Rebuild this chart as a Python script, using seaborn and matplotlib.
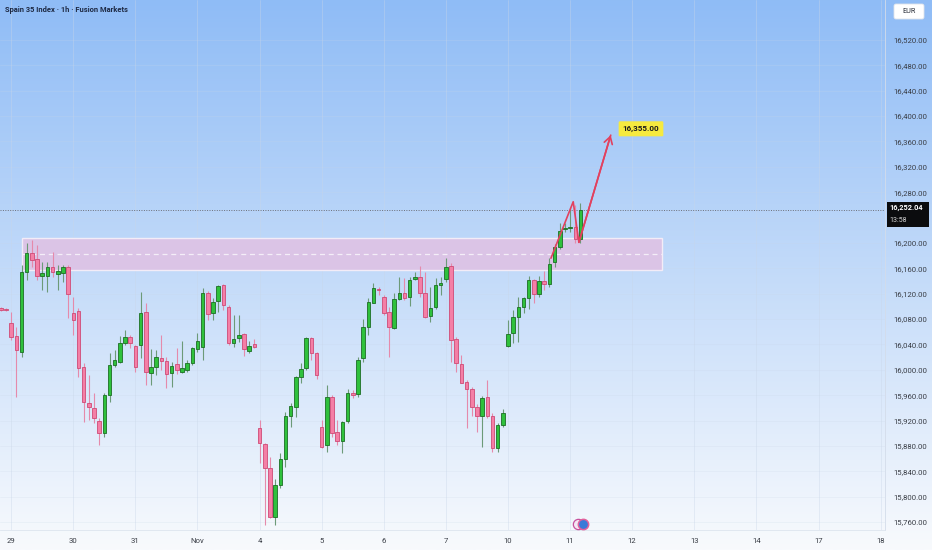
import numpy as np
import pandas as pd
import matplotlib.pyplot as plt
import matplotlib.patches as mpatches
import seaborn as sns

sns.set_style('white')
plt.rcParams['font.family'] = ['Roboto', 'DejaVu Sans']

# Hourly OHLC, 12 bars per session; first two bars are the end of 28 Oct
opens = [16097, 16096,
         16074, 16053, 16028, 16154, 16184, 16175, 16148, 16148, 16162, 16151, 16153, 16162,
         16090, 16093, 16004, 15948, 15940, 15919, 15900, 15960, 16008, 16012, 16042, 16052,
         16038, 16039, 16091, 15995, 16004, 16019, 16014, 15995, 16009, 15997, 16000, 16011,
         16033, 16036, 16121, 16090, 16108, 16134, 16099, 16042, 16050, 16056, 16030, 16041,
         15908, 15883, 15845, 15768, 15818, 15859, 15927, 15941, 15989, 16003, 16050, 16027,
         15910, 15881, 15957, 15902, 15888, 15919, 15963, 15962, 16019, 16067, 16105, 16128,
         16115, 16091, 16066, 16112, 16121, 16115, 16143, 16146, 16121, 16085, 16099, 16134,
         16143, 16164, 16048, 16009, 15981, 15970, 15941, 15927, 15957, 15927, 15877, 15913,
         16038, 16058, 16083, 16099, 16113, 16142, 16120, 16140, 16135, 16170, 16194, 16222,
         16223, 16225, 16206]
highs = [16099, 16098,
         16091, 16068, 16165, 16200, 16205, 16197, 16170, 16170, 16186, 16165, 16165, 16165,
         16115, 16097, 16011, 15992, 15963, 15924, 15963, 16026, 16031, 16053, 16063, 16055,
         16039, 16123, 16105, 16033, 16031, 16055, 16020, 16012, 16034, 16045, 16015, 16036,
         16058, 16129, 16124, 16113, 16134, 16135, 16102, 16086, 16086, 16058, 16045, 16049,
         15921, 15885, 15862, 15828, 15869, 15933, 15948, 15990, 16011, 16052, 16052, 16028,
         15921, 15976, 15960, 15921, 15919, 15970, 15968, 16020, 16080, 16113, 16137, 16131,
         16118, 16099, 16121, 16146, 16145, 16146, 16154, 16164, 16154, 16131, 16145, 16146,
         16176, 16168, 16052, 16023, 15984, 15973, 15946, 15959, 15984, 15932, 15916, 15938,
         16079, 16094, 16115, 16115, 16148, 16143, 16148, 16156, 16176, 16198, 16231, 16231,
         16255, 16260, 16263]
lows = [16093, 16093,
        16047, 15957, 16020, 16142, 16162, 16142, 16126, 16123, 16146, 16126, 16138, 16082,
        16055, 15989, 15918, 15921, 15916, 15881, 15894, 15949, 16004, 16011, 16039, 16034,
        15997, 16019, 15976, 15976, 15992, 16000, 15971, 15973, 15993, 15995, 15997, 16008,
        16028, 16015, 16079, 16079, 16091, 16094, 16039, 16036, 16044, 16022, 16027, 16034,
        15853, 15755, 15766, 15755, 15814, 15847, 15910, 15926, 15979, 16000, 16015, 15986,
        15877, 15870, 15894, 15881, 15869, 15916, 15955, 15957, 16012, 16055, 16105, 16118,
        16086, 16020, 16064, 16110, 16110, 16101, 16142, 16115, 16082, 16075, 16096, 16118,
        16138, 16012, 15997, 15979, 15908, 15927, 15902, 15878, 15924, 15870, 15870, 15910,
        16036, 16042, 16044, 16090, 16096, 16105, 16115, 16126, 16130, 16162, 16190, 16217,
        16217, 16200, 16200]
closes = [16095, 16094,
          16052, 16031, 16154, 16184, 16173, 16148, 16153, 16162, 16154, 16156, 16162, 16120,
          16079, 16003, 15949, 15941, 15924, 15900, 15960, 16008, 16015, 16042, 16052, 16042,
          16004, 16090, 15997, 16004, 16020, 16014, 15993, 16006, 16000, 16003, 16011, 16034,
          16045, 16121, 16088, 16107, 16132, 16102, 16042, 16049, 16055, 16033, 16038, 16036,
          15885, 15845, 15768, 15818, 15859, 15927, 15943, 15989, 16001, 16050, 16027, 15992,
          15878, 15957, 15900, 15888, 15918, 15963, 15961, 16015, 16067, 16107, 16129, 16126,
          16090, 16067, 16112, 16121, 16113, 16142, 16146, 16121, 16083, 16098, 16134, 16137,
          16162, 16047, 16011, 15979, 15970, 15941, 15927, 15955, 15927, 15877, 15913, 15932,
          16056, 16083, 16099, 16113, 16142, 16120, 16140, 16135, 16167, 16194, 16219, 16224,
          16225, 16206, 16252.04]

day_labels = ['29', '30', '31', 'Nov', '4', '5', '6', '7', '10', '11', '12', '13', '14', '17', '18']
bars_per_day = 12
price_ticks = list(range(15760, 16521, 40))

# supply/demand zone and projected move
zone_top, zone_mid, zone_bottom = 16208, 16182, 16157
zone_start, zone_end = 2.1, 125.8
path_x = [104.3, 108.6, 109.7]
path_y = [16176, 16265, 16201]
arrow_tip = (115.85, 16370)
target_label = '16,355.00'
target_label_pos = (121.7, 16380)
last_price = 16252.04
countdown = '13:58'

df = pd.DataFrame({'open': opens, 'high': highs, 'low': lows, 'close': closes})
df['idx'] = np.arange(len(df)) - 2
df['up'] = df['close'] >= df['open']

W, H = 932, 550
fig = plt.figure(figsize=(W / 100, H / 100), dpi=100)

# gradient background over the whole canvas
bg = fig.add_axes([0, 0, 1, 1])
top_c = np.array([143, 188, 246]) / 255
bot_c = np.array([248, 250, 253]) / 255
t = np.linspace(0, 1, 256)[:, None, None]
grad = top_c * (1 - t) + bot_c * t
bg.imshow(grad, aspect='auto', extent=[0, W, H, 0], zorder=0)
bg.set_xlim(0, W)
bg.set_ylim(H, 0)
bg.axis('off')

ax = fig.add_axes([0, 20 / H, 885 / W, 530 / H])
ax.patch.set_alpha(0)
ax.set_xlim(-2.164, 168.85)
ax.set_ylim(15747.4, 16583.1)

# faint grid
for d in range(len(day_labels)):
    ax.axvline(d * bars_per_day, color='#c9d6e8', lw=0.6, alpha=0.45, zorder=1)
for p in price_ticks:
    ax.axhline(p, color='#c9d6e8', lw=0.6, alpha=0.25, zorder=1)

# zone
zone = mpatches.Rectangle((zone_start, zone_bottom), zone_end - zone_start, zone_top - zone_bottom,
                          facecolor='#dbc4e6', edgecolor='#f3ecf7', lw=1.0, zorder=2)
ax.add_patch(zone)
ax.hlines(zone_mid, zone_start, zone_end, colors='#f4eef8', lw=0.9, linestyles=(0, (4, 3)), zorder=2)

# current price line
ax.axhline(last_price, color='#6b6f78', lw=0.7, ls=(0, (1, 1.5)), zorder=2)

# candles
up = df[df['up']]
dn = df[~df['up']]
ax.vlines(up['idx'], up['low'], up['high'], color='#6c9a78', lw=0.8, zorder=3)
ax.vlines(dn['idx'], dn['low'], dn['high'], color='#e58aab', lw=0.8, zorder=3)
body_up = np.maximum((up['close'] - up['open']).abs(), 1.3)
body_dn = np.maximum((dn['close'] - dn['open']).abs(), 1.3)
ax.bar(up['idx'], body_up, bottom=np.minimum(up['open'], up['close']), width=0.68,
       color='#2fc13c', edgecolor='#1c6e24', linewidth=0.6, zorder=4)
ax.bar(dn['idx'], body_dn, bottom=np.minimum(dn['open'], dn['close']), width=0.68,
       color='#f47fa6', edgecolor='#cf4a76', linewidth=0.6, zorder=4)

# projection path
red = '#e2415f'
sns.lineplot(x=path_x + [arrow_tip[0]], y=path_y + [arrow_tip[1]], sort=False, color=red, lw=1.2,
             ax=ax, zorder=5, legend=False)
ax.annotate('', xy=arrow_tip, xytext=(path_x[-1], path_y[-1]),
            arrowprops=dict(arrowstyle='->,head_length=0.5,head_width=0.3', color=red, lw=1.2,
                            mutation_scale=10, shrinkA=0, shrinkB=0), zorder=5)
ax.text(target_label_pos[0], target_label_pos[1], target_label, ha='center', va='center',
        fontsize=5.8, fontweight='bold', color='#1a1a1a', zorder=6,
        bbox=dict(boxstyle='round,pad=0.5,rounding_size=0.15', fc='#f6ea3f', ec='none'))

# event marker at the bottom
ax.scatter([109.5], [15757], s=55, facecolor='#f3e6f3', edgecolor='#c6509e', lw=0.9, zorder=6, clip_on=False)
ax.scatter([110.5], [15757], s=55, facecolor='#3a7ad8', edgecolor='#e2609c', lw=1.1, zorder=7, clip_on=False)

# axes styling; the scale label hidden behind the price tag is left blank
ax.yaxis.tick_right()
ax.set_yticks(price_ticks)
ax.set_yticklabels(['' if abs(p - last_price) < 20 else f'{p:,.2f}' for p in price_ticks])
ax.set_xticks([d * bars_per_day for d in range(len(day_labels))])
ax.set_xticklabels(day_labels)
ax.tick_params(axis='y', length=0, labelsize=5.6, pad=6, labelcolor='#3a3e46')
ax.tick_params(axis='x', length=0, labelsize=5.6, pad=6, labelcolor='#3a3e46')
for s in ['top', 'left']:
    ax.spines[s].set_visible(False)
ax.spines['right'].set_color('#d3dcea')
ax.spines['right'].set_linewidth(0.6)
ax.spines['bottom'].set_color('#dde4ee')
ax.spines['bottom'].set_linewidth(0.6)

# current price tag
tr = ax.get_yaxis_transform()
tag = mpatches.Rectangle((1.002, last_price - 27), 0.048, 40, transform=tr,
                         facecolor='#0b0c0e', edgecolor='none', clip_on=False, zorder=8)
ax.add_patch(tag)
ax.text(1.005, last_price + 4, f'{last_price:,.2f}', transform=tr, fontsize=5.3, fontweight='bold',
        color='white', va='center', ha='left', zorder=9, clip_on=False)
ax.text(1.005, last_price - 16, countdown, transform=tr, fontsize=5.0,
        color='#d8d8d8', va='center', ha='left', zorder=9, clip_on=False)

# currency button
bg.add_patch(mpatches.FancyBboxPatch((894, 4), 30, 15, boxstyle='round,pad=0,rounding_size=2',
                                     facecolor='white', edgecolor='#dfe3ea', lw=0.6, zorder=3))
bg.text(909, 11.5, 'EUR', ha='center', va='center', fontsize=5.2, color='#2a2e39', zorder=4)

# title
fig.text(5 / W, 1 - 10 / H, 'Spain 35 Index · 1h · Fusion Markets', fontsize=5.4,
         fontweight='semibold', color='#1e2a44', va='center', ha='left')

fig.savefig('out.png', dpi=100)
